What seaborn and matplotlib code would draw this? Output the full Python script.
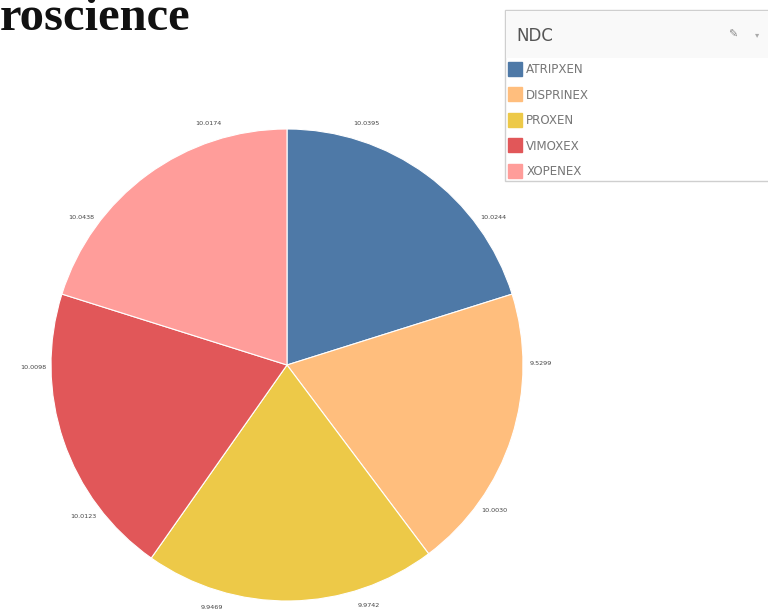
import matplotlib
matplotlib.use("Agg")
import matplotlib.pyplot as plt
from matplotlib.patches import Rectangle
from matplotlib.lines import Line2D
import seaborn as sns

# NDC product names and the two values that make up each wedge,
# listed in clockwise order within the wedge
products = ["ATRIPXEN", "DISPRINEX", "PROXEN", "VIMOXEX", "XOPENEX"]
first_part = [10.0395, 9.5299, 9.9742, 10.0123, 10.0438]
second_part = [10.0244, 10.0030, 9.9469, 10.0098, 10.0174]
colors = ["#4E79A7", "#FFBE7D", "#EDC948", "#E15759", "#FF9D9A"]

sub_values = []
for a, b in zip(first_part, second_part):
    sub_values.extend([a, b])
sub_labels = [f"{v:.4f}" for v in sub_values]
totals = [a + b for a, b in zip(first_part, second_part)]

sns.set_theme(style="white")
plt.rcParams["font.family"] = ["DejaVu Sans"]

W, H = 768, 611
def fx(x):
    return x / W
def fy(y):
    return 1 - y / H

fig = plt.figure(figsize=(7.68, 6.11), dpi=100)
fig.patch.set_facecolor("white")

ax = fig.add_axes([51 / W, 10 / H, 472 / W, 472 / H])
ax.pie(totals, colors=colors, startangle=90, counterclock=False, radius=1,
       wedgeprops=dict(linewidth=0.8, edgecolor="white"))
wedges, texts = ax.pie(sub_values, labels=sub_labels, startangle=90,
                       counterclock=False, radius=1, labeldistance=1.075,
                       colors=["none"] * len(sub_values),
                       wedgeprops=dict(linewidth=0),
                       textprops=dict(fontsize=4.6, color="#444444"))
for t in texts:
    t.set_ha("center")
    t.set_va("center")
ax.set_xlim(-1, 1)
ax.set_ylim(-1, 1)
ax.set_aspect("equal")
ax.axis("off")

# heading text at the top-left
fig.text(0.0, fy(30), "roscience", fontsize=35, fontweight="bold",
         family=["Liberation Serif", "DejaVu Serif"], color="#111111",
         ha="left", va="baseline")

# legend panel
fig.patches.append(Rectangle((fx(505), fy(181)), fx(280), 171 / H,
                             transform=fig.transFigure, facecolor="white",
                             edgecolor="#cfcfcf", linewidth=1.0, zorder=1))
fig.patches.append(Rectangle((fx(506), fy(58)), fx(278), 47 / H,
                             transform=fig.transFigure, facecolor="#f9f9f9",
                             edgecolor="none", zorder=1.5))
fig.text(fx(516), fy(36), "NDC", fontsize=12, color="#555555",
         ha="left", va="center")
fig.text(fx(733), fy(35), "✎", fontsize=8, color="#888888",
         ha="center", va="center", family=["DejaVu Sans"])
fig.text(fx(757), fy(35), "▾", fontsize=6, color="#aaaaaa",
         ha="center", va="center")

handles = [Line2D([0], [0], marker="s", linestyle="none", markersize=10,
                  markerfacecolor=c, markeredgecolor=c) for c in colors]
leg = fig.legend(handles, products, loc="upper left",
                 bbox_to_anchor=(fx(509), fy(63)), frameon=False,
                 fontsize=8.6, handlelength=1.0, handletextpad=0.45,
                 labelspacing=1.05, borderaxespad=0, borderpad=0)
for t in leg.get_texts():
    t.set_color("#777777")

fig.savefig("out.png", dpi=100, facecolor="white")
